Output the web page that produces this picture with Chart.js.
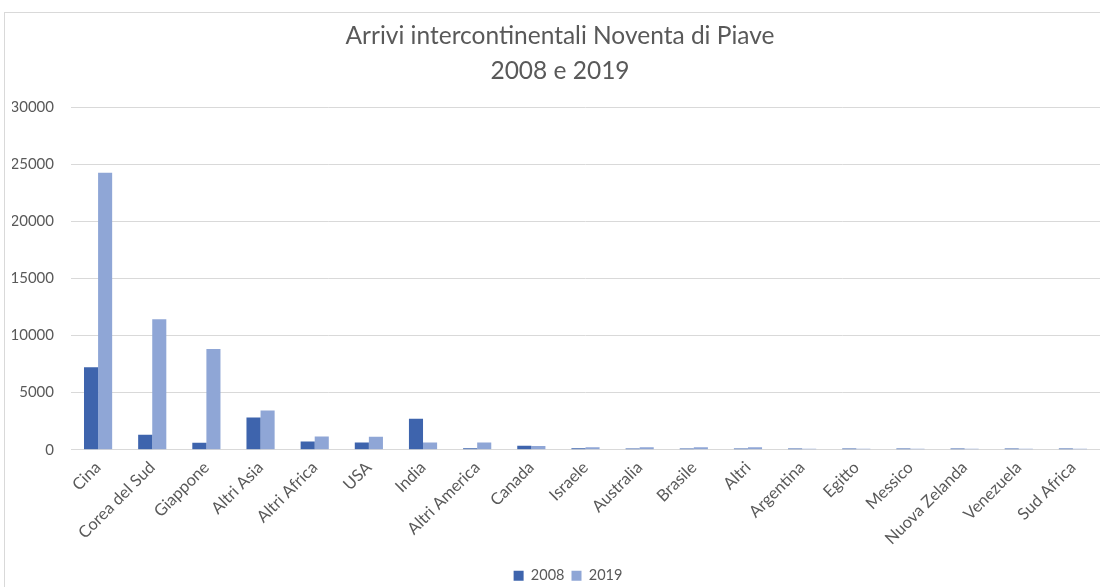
<!DOCTYPE html>
<html>
<head>
<meta charset="utf-8">
<script src="https://cdn.jsdelivr.net/npm/chart.js@4"></script>
<style>
  html, body { margin: 0; padding: 0; background: #fff; overflow: hidden; }
  #wrap { width: 1100px; height: 587px; }
</style>
</head>
<body>
<div id="wrap"><canvas id="c" width="1100" height="587"></canvas></div>
<script>
const categories = ["Cina", "Corea del Sud", "Giappone", "Altri Asia", "Altri Africa", "USA", "India",
  "Altri America", "Canada", "Israele", "Australia", "Brasile", "Altri", "Argentina", "Egitto",
  "Messico", "Nuova Zelanda", "Venezuela", "Sud Africa"];
const arrivals2008 = [7220, 1310, 610, 2820, 720, 640, 2710, 140, 350, 130, 120, 110, 120, 100, 100, 100, 100, 100, 100];
const arrivals2019 = [24240, 11420, 8830, 3430, 1160, 1140, 640, 640, 330, 230, 220, 220, 230, 90, 90, 90, 90, 80, 80];
const yTicks = [0, 5000, 10000, 15000, 20000, 25000, 30000];

const textColor = '#595959';
const gridColor = '#d9d9d9';
const fontFamily = 'Lato, "Open Sans", sans-serif';

// light frame around the whole chart (it runs past the right edge of the canvas)
const framePlugin = {
  id: 'frame',
  beforeDraw(chart) {
    const ctx = chart.ctx;
    ctx.save();
    ctx.strokeStyle = '#d9d9d9';
    ctx.lineWidth = 1;
    ctx.strokeRect(4.5, 12.5, 1200, 700);
    ctx.restore();
  }
};

// the legend is centred on the full chart frame and sits close to the bottom edge
const legendShift = {
  id: 'legendShift',
  afterLayout(chart) {
    const lg = chart.legend;
    if (lg) { lg.left += 8; lg.right += 8; lg.top += 6; lg.bottom += 6; }
  }
};

new Chart(document.getElementById('c'), {
  type: 'bar',
  data: {
    labels: categories,
    datasets: [
      { label: '2008', data: arrivals2008, backgroundColor: '#3e64ad', borderWidth: 0 },
      { label: '2019', data: arrivals2019, backgroundColor: '#8fa6d6', borderWidth: 0 }
    ]
  },
  options: {
    responsive: false,
    animation: false,
    devicePixelRatio: 1,
    layout: { padding: { left: 12, right: -8, top: 18, bottom: 0 } },
    datasets: { bar: { categoryPercentage: 0.52, barPercentage: 1.0 } },
    plugins: {
      title: {
        display: true,
        text: ['Arrivi intercontinentali Noventa di Piave', '2008 e 2019'],
        color: textColor,
        font: { family: fontFamily, size: 24.5, weight: 'normal', lineHeight: 1.45 },
        padding: { top: 0, bottom: 18 }
      },
      legend: {
        position: 'bottom',
        labels: {
          color: textColor,
          font: { family: fontFamily, size: 14.5 },
          boxWidth: 10,
          boxHeight: 10,
          padding: 7
        }
      },
      tooltip: { enabled: false }
    },
    scales: {
      x: {
        // rotated category labels should not widen the left margin
        afterFit(scale) { scale.paddingLeft = 0; scale.paddingRight = 0; scale.height -= 1; },
        grid: { display: false, drawTicks: false },
        border: { display: true, color: gridColor },
        ticks: {
          color: textColor,
          font: { family: fontFamily, size: 16.5 },
          maxRotation: 45,
          minRotation: 45,
          autoSkip: false,
          padding: 8
        }
      },
      y: {
        min: 0,
        max: 30000,
        afterBuildTicks(axis) { axis.ticks = yTicks.map(v => ({ value: v })); },
        afterFit(scale) { scale.width = 59; },
        grid: { color: gridColor, drawTicks: false },
        border: { display: false },
        ticks: {
          color: textColor,
          font: { family: fontFamily, size: 15 },
          padding: 17,
          callback: (v) => String(v)
        }
      }
    }
  },
  plugins: [framePlugin, legendShift]
});
</script>
</body>
</html>
